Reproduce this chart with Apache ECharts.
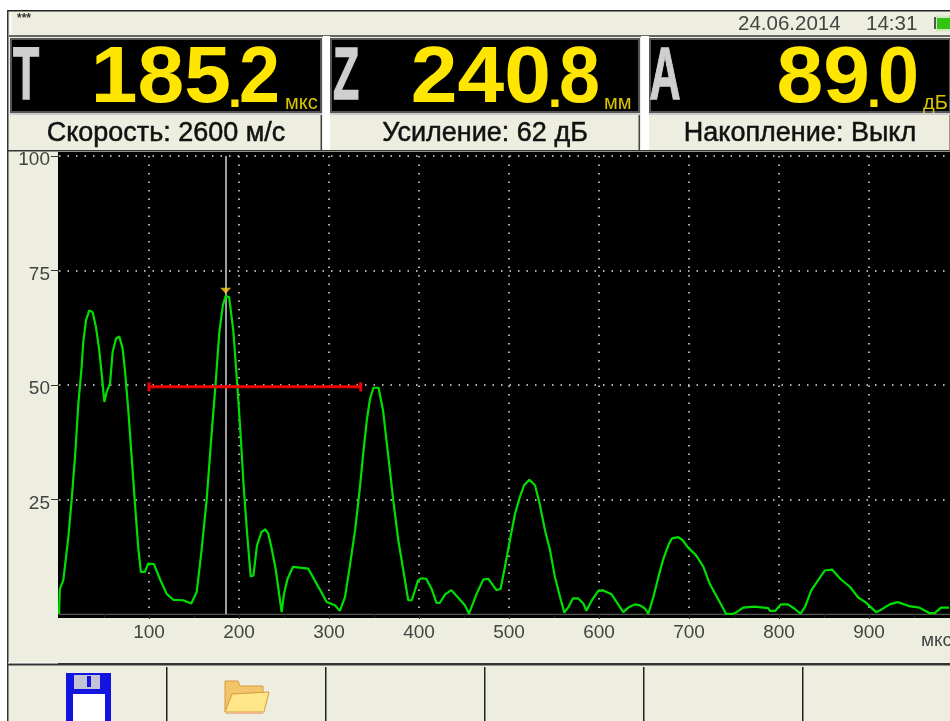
<!DOCTYPE html>
<html><head><meta charset="utf-8">
<style>html,body{margin:0;padding:0;background:#fff;overflow:hidden}#c{width:950px;height:721px}</style>
<script src="https://cdn.jsdelivr.net/npm/echarts@6/dist/echarts.min.js"></script>
</head><body><div id="c"></div>
<script>
const times=[0,1,4.8,10.4,14,17.8,21.5,25,27,30,33.7,37.4,41,44.5,47.4,50.4,53,56.7,59.6,63.3,67,70.7,73.3,77,80.7,84.4,88,91,95.5,99,105.5,112,119.6,127,138,147,153,158,164,169.6,174,178,182,185.2,189,193.6,198,201.7,205,209,213,216,220,225,229,232.5,236,241,246,247.4,250,254,260,277,284,290,297.4,306.6,312,317.8,323,329,334.4,338,342,345.6,349.3,355,360,366,371.4,377,382.6,388,392,399,403,408,414,419.6,423,429,436,445.6,451,455.6,464,471.4,477,486,490.7,495.5,501,506.7,512,516.7,522.6,528.9,534,540,545.6,551,556.7,561.5,566,571,577,582.6,586,592,599,604,614,619.6,627,632.6,640,645.6,651,654.8,660,666,671,677,681,688,693,699,708,716,723,732,741,748,753,760,773,788,790,796,802,810,817,824,829,836,846,851,859,868,879,888,896,908,914,923,932,945,956,967,973,980,989];
const amplitudes=[0,5.5,7.4,16.8,24.8,34.3,45.9,53.6,59.4,64.1,66.3,65.9,62.7,58,52.5,46.3,48.5,50.3,57.2,60.1,60.6,58,53.2,44.5,34.3,24.1,14.6,9.2,9.2,11,10.9,7.7,4.4,3.1,3,2.3,4.8,13.2,24.8,39.4,50.3,61.2,67.4,69.4,69.2,62,50.3,39.4,28.5,17.6,8.2,8.4,15,17.9,18.5,17.6,14.6,9.5,2.3,0.4,4.4,7.7,10.3,9.9,7.4,5.3,2.6,1.9,0.7,3.7,10.3,18.3,27.7,35,42.3,47,49.4,49.4,44.5,34.3,24.8,16.1,9.5,3,3,7.4,7.8,7.7,5.5,2.4,2.4,4.3,5.2,3.1,1.9,0.1,4.4,7.5,7.7,5.2,5.5,10.3,16.1,21.9,25.5,28.1,29.3,28.1,24.1,18.3,13.9,8.1,3.7,0.3,1.5,3.4,3.4,2.3,0.7,3,5,5.2,4.3,2.6,0.4,1.4,2.1,1.9,1.2,0.1,3.4,8.1,11.7,15,16.5,16.8,16.1,14.5,12.8,10.3,6.6,3.4,0.1,0,0.4,1.4,1.6,1.3,0.7,0.7,2.1,2.1,1.2,0.05,1.6,5.2,8.1,9.5,9.7,7.7,5.9,3.6,2.6,0.4,1,2.1,2.6,1.7,1.4,0.2,0.2,1.4,1.4];
const gateTimes=[100,335.2];
const gateLevel=49.6;
const cursorTime=185.2;
const peakMarker=[185.2,70.6];
const yTicks=[25,50,75,100];
const xTicks=[100,200,300,400,500,600,700,800,900];
const readoutLetters=['T','Z','A'];
const readoutValues=['185.2','240.8','89.0'];
const readoutUnits=['мкс','мм','дБ'];
const statusTexts=['Скорость: 2600 м/с','Усиление: 62 дБ','Накопление: Выкл'];
const headerDate='24.06.2014';
const headerTime='14:31';
const axisUnit='мкс';

const PANEL='#eeeee0', FONT='"Liberation Sans",Arial,sans-serif';
const rect=(x,y,w,h,fill,extra)=>Object.assign({type:'rect',shape:{x,y,width:w,height:h},style:{fill},silent:true},extra||{});
const text=(x,y,t,font,fill,align,extra)=>Object.assign({type:'text',x,y,silent:true,style:Object.assign({text:t,font,fill,textAlign:align||'left',textVerticalAlign:'middle'},extra&&extra.style||{})},extra&&extra.props||{});
const poly=(pts,fill,stroke)=>({type:'polygon',shape:{points:pts},style:{fill,stroke:stroke||null,lineWidth:1},silent:true});

const boxes=[[10,322],[330,640],[649,951]];
const dotX=[236,556,875];
const unitX=[285,604,923];
const letterX=[26,346,665];
const g=[];
g.push(rect(0,0,950,10,'#fff'));
g.push(rect(0,0,7,721,'#fff'));
g.push(rect(7,10,943,1.5,'#222'));
g.push(rect(7,10,1.5,711,'#333'));
g.push(rect(10,12,1.5,23,'#fff'));
g.push(rect(9,35,941,2,'#666'));
g.push(text(17,19,'***','bold 12px '+FONT,'#333'));
g.push(text(738,24,headerDate,'20.5px '+FONT,'#444'));
g.push(text(866,24,headerTime,'20.5px '+FONT,'#444'));
g.push(rect(934,17,2,12,'#555'));g.push(rect(936,15.5,14,16,'#cfe8c0'));g.push(rect(937,18,13,11,'#34c414'));
boxes.forEach((b,i)=>{
  const w=b[1]-b[0];
  if(i>0) g.push(rect(boxes[i-1][1]+1,36,b[0]-boxes[i-1][1]-1,115,'#fff'));
  g.push(rect(b[0],38,w,75,'#555'));
  g.push(rect(b[0]+2,40,w-4,71,'#000'));
  g.push(rect(b[1]-1.5,115,1.5,36,'#444'));
  g.push(rect(b[0],113,w,2,'#ccc'));
  g.push(text(letterX[i],79,readoutLetters[i],'bold 74px '+FONT,'#cfcfcf','center',{props:{scaleX:0.58,scaleY:1},style:{stroke:'#cfcfcf',lineWidth:1.5}}));
  const parts=readoutValues[i].split('.');
  const digitFont='bold 80px '+FONT;
  g.push(text(dotX[i]-5,80,parts[0],digitFont,'#ffe600','right',{props:{scaleX:1.05,scaleY:1}}));
  g.push(text(dotX[i]-1,93,'.','bold 50px '+FONT,'#ffe600','center'));
  g.push(text(dotX[i]+44,80,parts[1],digitFont,'#ffe600','right',{props:{scaleX:0.92,scaleY:1}}));
  g.push(text(unitX[i],103,readoutUnits[i],'20px '+FONT,'#d8c400'));
  g.push(text((b[0]+b[1])/2,133.5,statusTexts[i],'27px '+FONT,'#111','center',{style:{stroke:'#111',lineWidth:0.5}}));
});
g.push(rect(8,150,942,1.5,'#333'));
g.push(rect(58,152,892,4,'#000'));
g.push(rect(58,152,1,466,'#000'));
g.push(rect(58,615,892,3,'#000'));
g.push(text(921,641,axisUnit,'19px '+FONT,'#444'));
g.push(rect(8,663,942,2.5,'#333'));
g.push(rect(8,662.5,50,1,'#fff'));
[166,325,484,643,802].forEach(x=>g.push(rect(x,667,1.5,54,'#222')));
// floppy icon
g.push(rect(66,673,45,48,'#1414e0',{}));
g.push(rect(74,675,26,14,'#c4c4d8'));g.push(rect(87,676,4,11,'#1414e0'));
g.push(rect(73,694,32,27,'#ffffff'));
// folder icon
g.push(poly([[225,681],[238,681],[240,686],[263,686],[263,695],[225,712]],'#f4c468','#d89a40'));
g.push(poly([[232,694],[269,692],[264,712],[225,712]],'#ffe688','#d89a40'));
g.push(poly([[226,712],[264,712],[263,714],[226,714]],'#f0b888'));

const chart=echarts.init(document.getElementById('c'),null,{renderer:'canvas'});
chart.setOption({
  animation:false,
  backgroundColor:PANEL,
  grid:{left:59,right:0,top:156,height:458,show:true,backgroundColor:'#000',borderWidth:0,containLabel:false},
  graphic:{elements:g},
  xAxis:{type:'value',min:0,max:990,interval:100,offset:3,
    axisLine:{show:true,lineStyle:{color:'#222',width:1.5}},
    axisTick:{show:true,length:5,lineStyle:{color:'#222'},customValues:xTicks},
    minorTick:{show:true,splitNumber:2,length:4,lineStyle:{color:'#222'}},
    splitLine:{show:true,lineStyle:{color:'#e8e8e8',width:1.5,type:[1.5,7]}},
    axisLabel:{color:'#444',fontFamily:'Liberation Sans',fontSize:19,margin:6,customValues:xTicks,hideOverlap:false}},
  yAxis:{type:'value',min:0,max:100,interval:25,
    axisLine:{show:false},
    axisTick:{show:true,length:8,inside:false,lineStyle:{color:'#333'},customValues:yTicks},
    splitLine:{show:true,lineStyle:{color:'#e8e8e8',width:1.5,type:[1.5,7]}},
    axisLabel:{color:'#444',fontFamily:'Liberation Sans',fontSize:19,margin:9,customValues:yTicks,verticalAlign:'top',lineHeight:8}},
  series:[
    {type:'line',name:'A-scan',z:5,symbol:'none',smooth:false,data:times.map((t,i)=>[t,amplitudes[i]]),lineStyle:{color:'#00e000',width:2.2},
     markLine:{silent:true,symbol:'none',label:{show:false},lineStyle:{color:'#d0d0d0',width:1.5,type:'solid'},data:[{xAxis:cursorTime}],animation:false}},
    {type:'line',name:'gate',z:6,symbol:'rect',symbolSize:[3,9],showSymbol:true,data:gateTimes.map(t=>[t,gateLevel]),itemStyle:{color:'#f00000'},lineStyle:{color:'#f00000',width:3}},
    {type:'scatter',name:'peak',z:7,symbol:'triangle',symbolRotate:180,symbolSize:[11,6],data:[peakMarker],itemStyle:{color:'#ffc820'}}
  ]
});
</script></body></html>
